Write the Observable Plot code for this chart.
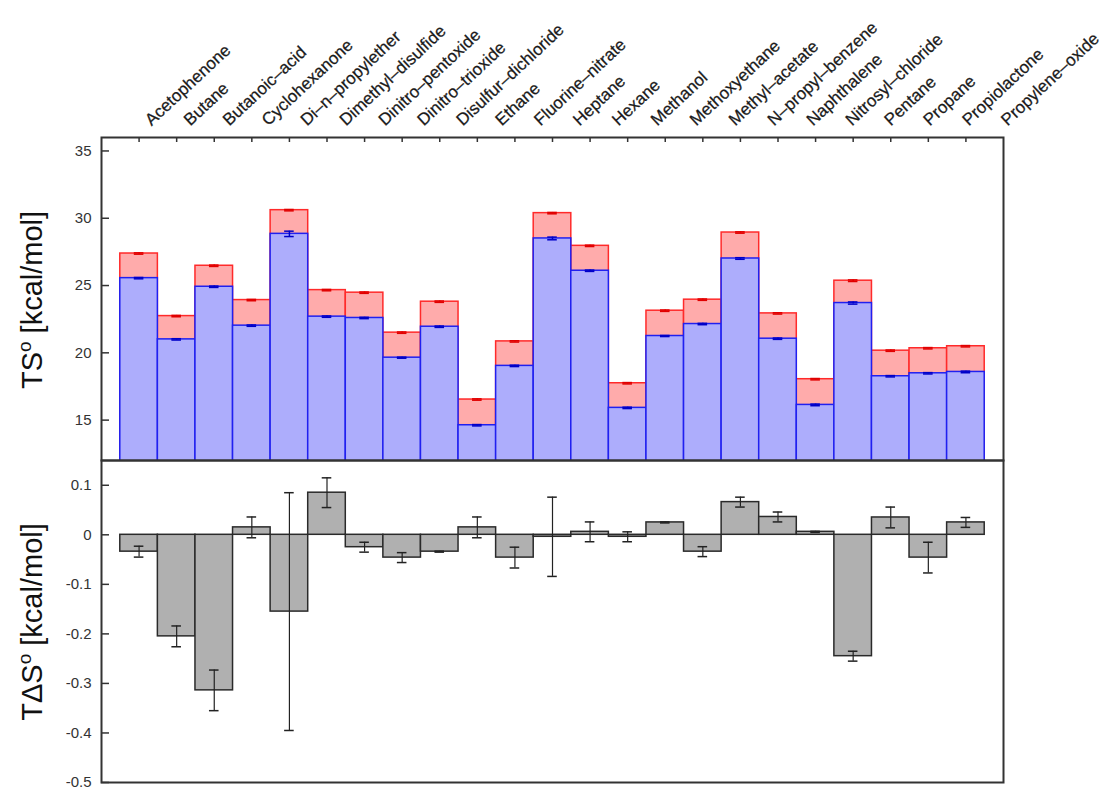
<!DOCTYPE html>
<html>
<head>
<meta charset="utf-8">
<script src="https://cdn.jsdelivr.net/npm/d3@7"></script>
<script src="https://cdn.jsdelivr.net/npm/@observablehq/plot@0.6"></script>
<style>
  html, body { margin: 0; padding: 0; background: #fff; }
  #wrap { position: relative; width: 1105px; height: 787px; font-family: "Liberation Sans", Arial, sans-serif; }
  #wrap svg { display: block; }
  #wrap svg.labels { position: absolute; left: 0; top: 0; }
  .ytitle { position: absolute; transform: translate(-50%, -50%) rotate(-90deg); font-size: 29px; white-space: nowrap; color: #111; }
  .ytitle sup { font-size: 19px; vertical-align: 0.55em; line-height: 0; }
</style>
</head>
<body>
<div id="wrap"></div>
<script>
const names = ["Acetophenone","Butane","Butanoic–acid","Cyclohexanone","Di–n–propylether","Dimethyl–disulfide","Dinitro–pentoxide","Dinitro–trioxide","Disulfur–dichloride","Ethane","Fluorine–nitrate","Heptane","Hexane","Methanol","Methoxyethane","Methyl–acetate","N–propyl–benzene","Naphthalene","Nitrosyl–chloride","Pentane","Propane","Propiolactone","Propylene–oxide"];
const tsRed = [27.38,22.73,26.47,23.92,30.6,24.66,24.47,21.5,23.8,16.53,20.85,30.38,27.95,17.74,23.13,23.95,28.94,22.93,18.04,25.36,20.16,20.34,20.49];
const tsRedErr = [0.05,0.05,0.05,0.05,0.05,0.05,0.05,0.05,0.05,0.05,0.05,0.05,0.05,0.05,0.05,0.05,0.05,0.05,0.05,0.06,0.05,0.05,0.05];
const tsBlue = [25.55,21.0,24.91,22.02,28.84,22.69,22.59,19.64,21.94,14.62,19.03,28.5,26.1,15.91,21.25,22.14,27.01,21.05,16.13,23.7,18.26,18.48,18.58];
const tsBlueErr = [0.05,0.05,0.05,0.05,0.2,0.05,0.05,0.04,0.05,0.05,0.05,0.1,0.05,0.05,0.04,0.05,0.06,0.05,0.06,0.08,0.05,0.05,0.06];
const dts = [-0.034,-0.205,-0.314,0.015,-0.155,0.085,-0.025,-0.046,-0.034,0.015,-0.046,-0.004,0.006,-0.004,0.025,-0.034,0.066,0.036,0.006,-0.245,0.035,-0.046,0.025];
const dtsErr = [0.011,0.021,0.041,0.021,0.24,0.03,0.01,0.01,0.001,0.021,0.021,0.08,0.02,0.01,0.001,0.01,0.01,0.01,0.001,0.01,0.021,0.031,0.01];
const topTicks = [15,20,25,30,35];
const bottomTicks = [-0.5,-0.4,-0.3,-0.2,-0.1,0,0.1];

const rows = names.map((name, i) => ({name, red: tsRed[i], redErr: tsRedErr[i], blue: tsBlue[i], blueErr: tsBlueErr[i], d: dts[i], dErr: dtsErr[i]}));

const W = 1105, ML = 101, MR = 102;
const xScale = {type: "band", domain: names, paddingInner: 0, paddingOuter: 0.5, round: false, axis: null};
const font = {fontFamily: "Liberation Sans, Arial, sans-serif", fontSize: "15px", color: "#333", background: "transparent", overflow: "visible"};
const capInset = 14;

const topH = 460, topMT = 137;
const topPlot = Plot.plot({
  width: W, height: topH,
  marginLeft: ML, marginRight: MR, marginTop: topMT, marginBottom: 0,
  style: font,
  x: xScale,
  y: {domain: [12, 36], axis: null},
  marks: [
    Plot.barY(rows, {x: "name", y: "red", fill: "#ffabab", stroke: "#ff2a2a", strokeWidth: 1.5, clip: true}),
    Plot.barY(rows, {x: "name", y: "blue", fill: "#adadfc", stroke: "#2020f0", strokeWidth: 1.5, clip: true}),
    Plot.ruleX(rows, {x: "name", y1: d => d.red - d.redErr, y2: d => d.red + d.redErr, stroke: "#e00000", strokeWidth: 1.5}),
    Plot.tickY(rows, {x: "name", y: d => d.red - d.redErr, stroke: "#e00000", strokeWidth: 1.5, insetLeft: capInset, insetRight: capInset}),
    Plot.tickY(rows, {x: "name", y: d => d.red + d.redErr, stroke: "#e00000", strokeWidth: 1.5, insetLeft: capInset, insetRight: capInset}),
    Plot.ruleX(rows, {x: "name", y1: d => d.blue - d.blueErr, y2: d => d.blue + d.blueErr, stroke: "#0000c8", strokeWidth: 1.5}),
    Plot.tickY(rows, {x: "name", y: d => d.blue - d.blueErr, stroke: "#0000c8", strokeWidth: 1.5, insetLeft: capInset, insetRight: capInset}),
    Plot.tickY(rows, {x: "name", y: d => d.blue + d.blueErr, stroke: "#0000c8", strokeWidth: 1.5, insetLeft: capInset, insetRight: capInset}),
    Plot.gridY(topTicks, {stroke: "#333", strokeOpacity: 1, strokeWidth: 1.5, insetRight: W - ML - MR - 8}),
    Plot.gridX(names, {stroke: "#333", strokeOpacity: 1, strokeWidth: 1.5, insetBottom: topH - topMT - 5}),
    Plot.axisY(topTicks, {tickSize: 0, tickPadding: 10, fontSize: 15, fill: "#333", label: null, tickFormat: d => String(d)}),
    Plot.frame({stroke: "#333", strokeWidth: 2})
  ]
});

const labelPlot = Plot.plot({
  width: W, height: topMT,
  marginLeft: 112, marginRight: 59, marginTop: 0, marginBottom: 0,
  style: font,
  x: {type: "band", domain: names, paddingInner: 0, paddingOuter: 0.5, round: false, axis: null},
  marks: [
    Plot.text(names, {x: d => d, frameAnchor: "bottom", text: d => d, rotate: -43, textAnchor: "start", dy: -11, fontSize: 17, fill: "#1a1a1a", stroke: "#1a1a1a", strokeWidth: 0.25})
  ]
});
labelPlot.classList.add("labels");

const botH = 327;
const bottomPlot = Plot.plot({
  width: W, height: botH,
  marginLeft: ML, marginRight: MR, marginTop: 0, marginBottom: 5,
  style: font,
  x: xScale,
  y: {domain: [-0.5, 0.15], axis: null},
  marks: [
    Plot.barY(rows, {x: "name", y: "d", fill: "#b0b0b0", stroke: "#2a2a2a", strokeWidth: 1.5}),
    Plot.ruleX(rows, {x: "name", y1: d => d.d - d.dErr, y2: d => d.d + d.dErr, stroke: "#222", strokeWidth: 1.2}),
    Plot.tickY(rows, {x: "name", y: d => d.d - d.dErr, stroke: "#222", strokeWidth: 1.5, insetLeft: capInset, insetRight: capInset}),
    Plot.tickY(rows, {x: "name", y: d => d.d + d.dErr, stroke: "#222", strokeWidth: 1.5, insetLeft: capInset, insetRight: capInset}),
    Plot.gridY(bottomTicks, {stroke: "#333", strokeOpacity: 1, strokeWidth: 1.5, insetRight: W - ML - MR - 8}),
    Plot.axisY(bottomTicks, {tickSize: 0, tickPadding: 10, fontSize: 15, fill: "#333", label: null, tickFormat: d => String(+d.toFixed(1))}),
    Plot.frame({stroke: "#333", strokeWidth: 2})
  ]
});

const wrap = document.getElementById("wrap");
wrap.appendChild(topPlot);
wrap.appendChild(bottomPlot);
wrap.appendChild(labelPlot);

const t1 = document.createElement("div");
t1.className = "ytitle";
t1.style.left = "32px"; t1.style.top = "300px";
t1.innerHTML = "TS<sup>o</sup> [kcal/mol]";
wrap.appendChild(t1);

const t2 = document.createElement("div");
t2.className = "ytitle";
t2.style.left = "32px"; t2.style.top = "622px";
t2.innerHTML = "TΔS<sup>o</sup> [kcal/mol]";
wrap.appendChild(t2);
</script>
</body>
</html>
